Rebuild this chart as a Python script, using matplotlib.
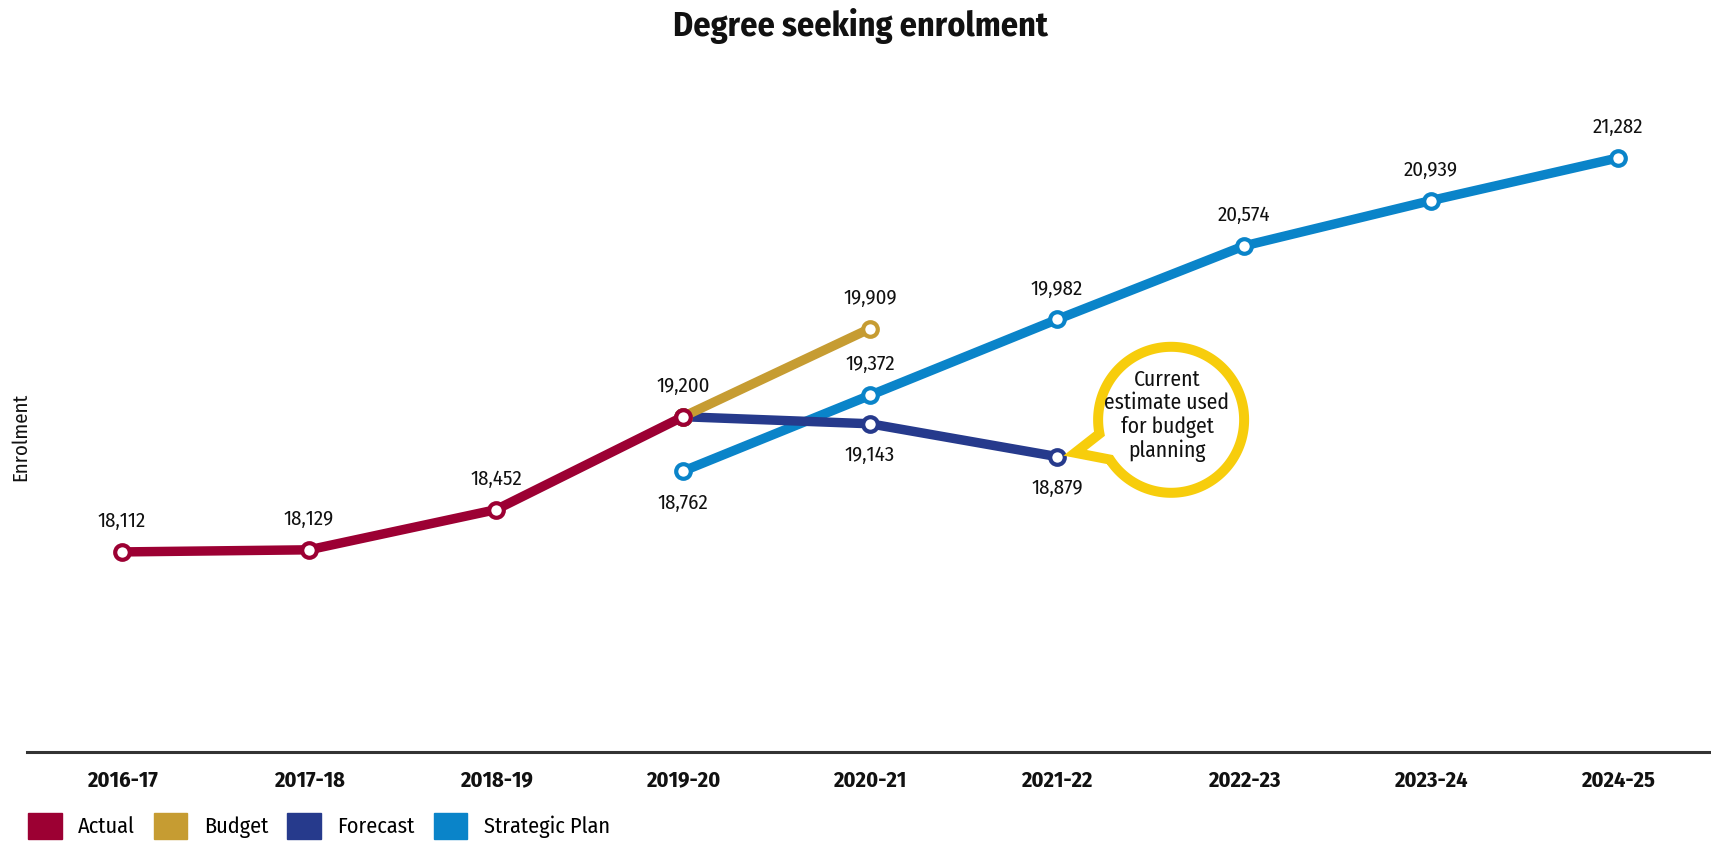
import matplotlib
matplotlib.use("Agg")
import matplotlib.pyplot as plt
import matplotlib.transforms as mtransforms
from matplotlib import font_manager
from matplotlib.patches import Patch, PathPatch
from matplotlib.path import Path
import numpy as np

# narrow sans with both a regular and a bold face
weights = {}
for f in font_manager.fontManager.ttflist:
    if f.style == 'normal':
        weights.setdefault(f.name, set()).add(f.weight)
candidates = ['Fira Sans Condensed', 'Asap Condensed', 'Encode Sans Condensed',
              'PT Sans Narrow', 'Barlow Semi Condensed', 'Roboto Condensed',
              'Open Sans']
font = next((c for c in candidates
             if {400, 700} <= {int(w) for w in weights.get(c, ())}), 'DejaVu Sans')
plt.rcParams['font.family'] = [font, 'DejaVu Sans']

years = ['2016-17', '2017-18', '2018-19', '2019-20', '2020-21',
         '2021-22', '2022-23', '2023-24', '2024-25']

actual_idx = [0, 1, 2, 3]
actual = [18112, 18129, 18452, 19200]
budget_idx = [3, 4]
budget = [19200, 19909]
forecast_idx = [3, 4, 5]
forecast = [19200, 19143, 18879]
plan_idx = [3, 4, 5, 6, 7, 8]
plan = [18762, 19372, 19982, 20574, 20939, 21282]

c_actual = '#9c0033'
c_budget = '#c69c32'
c_forecast = '#263a8c'
c_plan = '#0a84c9'
c_bubble = '#f7cd0c'

fig = plt.figure(figsize=(17.11, 8.42), dpi=100)
ax = fig.add_axes([0.0158, 0.107, 0.9842, 0.798])

def draw(idx, vals, color, z, below=(), skip=()):
    ax.plot(idx, vals, color=color, lw=6.8, solid_capstyle='butt', zorder=z,
            marker='o', markersize=10.5, markerfacecolor='white',
            markeredgecolor=color, markeredgewidth=3)
    for i, v in zip(idx, vals):
        if i in skip:
            continue
        ax.annotate(f'{v:,}', (i, v), xytext=(0, -23 if i in below else 22),
                    textcoords='offset points', ha='center', va='center',
                    fontsize=15, color='#111111', zorder=10)

draw(plan_idx, plan, c_plan, 2, below=(3,))
draw(forecast_idx, forecast, c_forecast, 3, below=(4, 5), skip=(3,))
draw(budget_idx, budget, c_budget, 4, skip=(3,))
draw(actual_idx, actual, c_actual, 5)

ax.set_xlim(-0.508, 8.497)
ax.set_ylim(16503, 21909)
ax.set_xticks(range(len(years)))
ax.set_xticklabels(years, fontsize=16, fontweight='bold', color='#111111')
ax.tick_params(axis='x', length=0, pad=13)
ax.set_yticks([])
for s in ['top', 'left', 'right']:
    ax.spines[s].set_visible(False)
ax.spines['bottom'].set_linewidth(2.2)
ax.spines['bottom'].set_color('#333333')
ax.patch.set_alpha(0)

# speech bubble next to the 2021-22 forecast point
bx, by = 5.61, 19175
trans = fig.dpi_scale_trans + mtransforms.ScaledTranslation(bx, by, ax.transData)
r = 0.73
theta = np.radians(np.linspace(213, 551, 200))
verts = [(r * np.cos(t), r * np.sin(t)) for t in theta]
verts += [(-0.96, -0.33), verts[0]]
codes = [Path.MOVETO] + [Path.LINETO] * (len(verts) - 2) + [Path.CLOSEPOLY]
bubble = PathPatch(Path(verts, codes), facecolor='white', edgecolor=c_bubble,
                   lw=7.2, joinstyle='miter', transform=trans, zorder=6)
ax.add_patch(bubble)
ax.annotate('Current\nestimate used\nfor budget\nplanning', (bx, by),
            xytext=(-3, 3), textcoords='offset points', ha='center', va='center',
            fontsize=15.5, linespacing=1.1, color='#111111', zorder=11)

fig.text(0.503, 0.969, 'Degree seeking enrolment', ha='center', va='center',
         fontsize=24.5, fontweight='bold', color='#111111')
fig.text(0.012, 0.481, 'Enrolment', rotation=90, ha='center', va='center',
         fontsize=15, color='#111111')

handles = [Patch(color=c_actual, label='Actual'),
           Patch(color=c_budget, label='Budget'),
           Patch(color=c_forecast, label='Forecast'),
           Patch(color=c_plan, label='Strategic Plan')]
fig.legend(handles=handles, loc='lower left', bbox_to_anchor=(0.0165, 0.004),
           ncol=4, frameon=False, fontsize=16, handlelength=1.5,
           handleheight=1.4, handletextpad=0.75, columnspacing=0.85,
           borderpad=0, borderaxespad=0)

fig.savefig('out.png', dpi=100)
